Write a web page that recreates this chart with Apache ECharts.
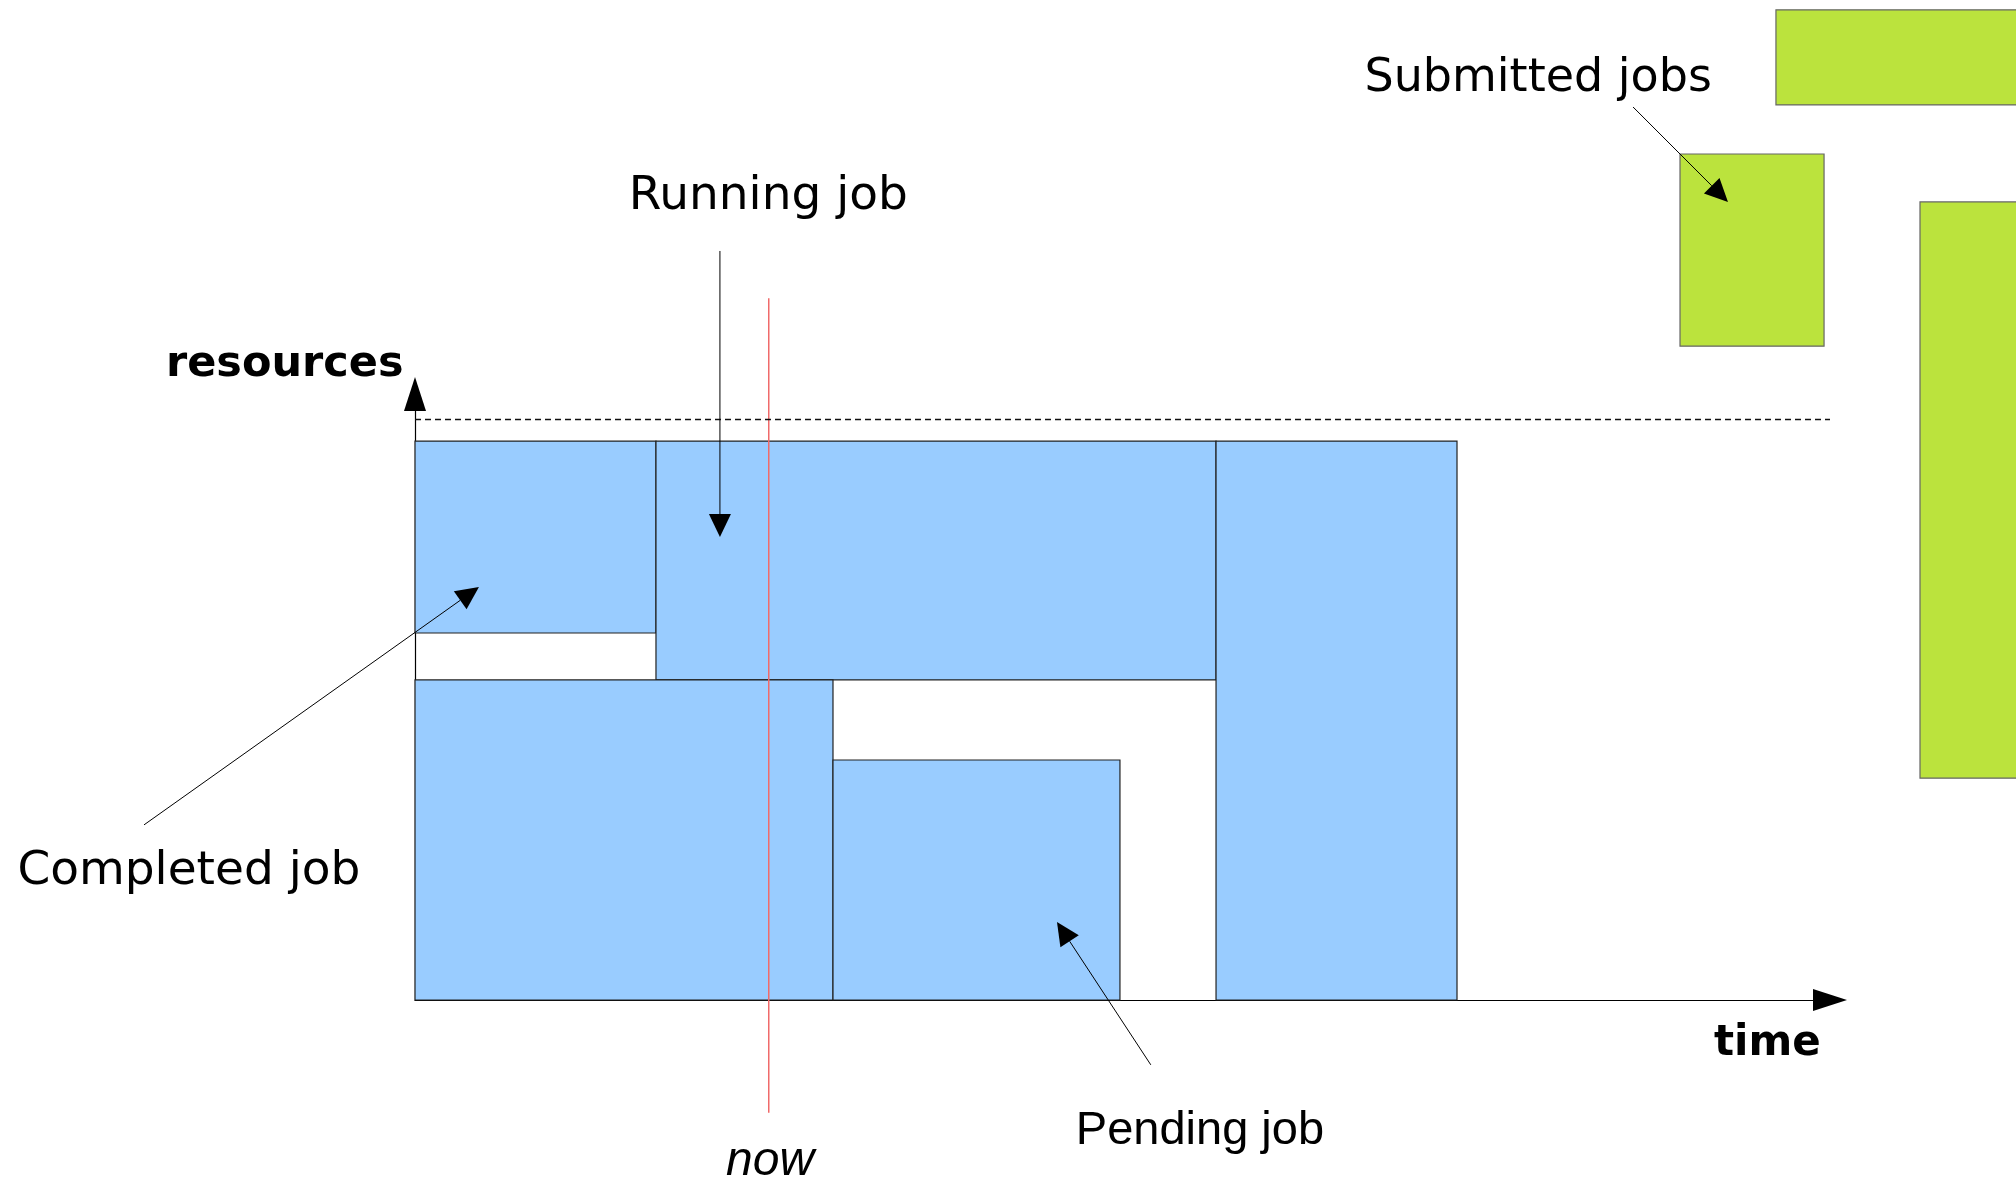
<!DOCTYPE html>
<html><head><meta charset="utf-8">
<script src="https://cdn.jsdelivr.net/npm/echarts@6/dist/echarts.min.js"></script>
<style>html,body{margin:0;padding:0;background:#fff}#c{width:2016px;height:1181px}</style>
</head><body><div id="c"></div>
<script>
// ---- data (time units on x, resource units on y) ----
const jobNames    = ['Completed job', 'Running job', 'Job A', 'Pending job', 'Job B'];
const jobStart    = [0, 17.03, 0, 29.54, 56.61];
const jobEnd      = [17.03, 56.61, 29.54, 49.82, 73.64];
const jobResLow   = [60.56, 52.81, 0, 0, 0];
const jobResHigh  = [92.24, 92.24, 52.81, 39.6, 92.24];

const subStart    = [96.18, 89.4, 106.36];
const subEnd      = [113.2, 99.58, 113.2];
const subResLow   = [147.7, 107.9, 36.6];
const subResHigh  = [163.4, 139.6, 131.7];

const capacity    = 95.9;
const nowTime     = 25;
const nowSpan     = [-18.6, 115.8];

// arrows: from (x,y) to tip (x,y)
const arrowFromX  = [21.55, -19.15, 52.0, 86.08];
const arrowFromY  = [123.6, 28.9, -10.7, 147.36];
const arrowToX    = [21.55, 4.52, 45.37, 92.79];
const arrowToY    = [76.4, 68.15, 12.87, 131.68];

const labelTexts  = ['Submitted jobs', 'Running job', 'resources', 'Completed job', 'Pending job', 'now', 'time'];
const labelX      = [67.1, 15.1, -17.6, -28.1, 46.7, 21.98, 91.8];
const labelY      = [151.9, 132.5, 104.8, 21.2, -21.6, -26.7, -7.2];

// ---- styles ----
const labelFonts = [
  '46px "DejaVu Sans"', '47px "DejaVu Sans"', 'bold 43px "DejaVu Sans"', '47px "DejaVu Sans"',
  '47px "Liberation Sans"', 'italic 48px "Liberation Sans"', 'bold 42px "DejaVu Sans"'
];

const jobData = jobStart.map((s, i) => [s, jobEnd[i], jobResLow[i], jobResHigh[i]]);
const subData = subStart.map((s, i) => [s, subEnd[i], subResLow[i], subResHigh[i]]);
const arrowData = arrowFromX.map((x, i) => [x, arrowFromY[i], arrowToX[i], arrowToY[i]]);
const labelData = labelX.map((x, i) => [x, labelY[i]]);

function rectItem(fill, stroke) {
  return function (params, api) {
    const p0 = api.coord([api.value(0), api.value(3)]);
    const p1 = api.coord([api.value(1), api.value(2)]);
    return {
      type: 'rect',
      shape: { x: p0[0], y: p0[1], width: p1[0] - p0[0], height: p1[1] - p0[1] },
      style: { fill: fill, stroke: stroke, lineWidth: 1.2 }
    };
  };
}

function arrowItem(params, api) {
  const a = api.coord([api.value(0), api.value(1)]);
  const b = api.coord([api.value(2), api.value(3)]);
  const dx = b[0] - a[0], dy = b[1] - a[1];
  const L = Math.hypot(dx, dy), ux = dx / L, uy = dy / L;
  const hl = 23, hw = 11;
  const base = [b[0] - ux * hl, b[1] - uy * hl];
  return {
    type: 'group',
    children: [
      { type: 'line', shape: { x1: a[0], y1: a[1], x2: base[0], y2: base[1] }, style: { stroke: '#000', lineWidth: 1 } },
      { type: 'polygon', shape: { points: [b, [base[0] - uy * hw, base[1] + ux * hw], [base[0] + uy * hw, base[1] - ux * hw]] }, style: { fill: '#000' } }
    ]
  };
}

function labelItem(params, api) {
  const p = api.coord([api.value(0), api.value(1)]);
  const i = params.dataIndex;
  return {
    type: 'text',
    style: { text: labelTexts[i], x: p[0], y: p[1], fill: '#000', font: labelFonts[i], align: 'left', verticalAlign: 'middle' }
  };
}

function nowItem(params, api) {
  const p0 = api.coord([api.value(0), api.value(1)]);
  const p1 = api.coord([api.value(0), api.value(2)]);
  return { type: 'line', shape: { x1: p0[0], y1: p0[1], x2: p1[0], y2: p1[1] }, style: { stroke: '#f06a6a', lineWidth: 1.5 } };
}

const chart = echarts.init(document.getElementById('c'));
chart.setOption({
  animation: false,
  backgroundColor: '#fff',
  grid: { left: 415, top: 394, width: 1415, height: 606, outerBoundsMode: 'none' },
  xAxis: {
    type: 'value', min: 0, max: 100,
    axisLine: { show: true, onZero: false, symbol: ['none', 'triangle'], symbolSize: [22, 34], lineStyle: { color: '#000', width: 1.2 } },
    axisTick: { show: false }, axisLabel: { show: false }, splitLine: { show: false }
  },
  yAxis: {
    type: 'value', min: 0, max: 100,
    axisLine: { show: true, onZero: false, symbol: ['none', 'triangle'], symbolSize: [22, 34], lineStyle: { color: '#000', width: 1.2 } },
    axisTick: { show: false }, axisLabel: { show: false }, splitLine: { show: false }
  },
  series: [
    {
      type: 'custom', name: 'jobs', renderItem: rectItem('#99ccff', '#222'), data: jobData, clip: false, z: 3,
      markLine: {
        silent: true, symbol: 'none', label: { show: false },
        lineStyle: { color: '#111', type: [6, 4], width: 1.3 },
        data: [{ yAxis: capacity }]
      }
    },
    { type: 'custom', name: 'submitted', renderItem: rectItem('#bbe33d', '#666'), data: subData, clip: false, z: 3 },
    { type: 'custom', name: 'now', renderItem: nowItem, data: [[nowTime, nowSpan[0], nowSpan[1]]], clip: false, z: 4 },
    { type: 'custom', name: 'arrows', renderItem: arrowItem, data: arrowData, clip: false, z: 5 },
    { type: 'custom', name: 'labels', renderItem: labelItem, data: labelData, clip: false, z: 6 }
  ]
});
</script>
</body></html>
